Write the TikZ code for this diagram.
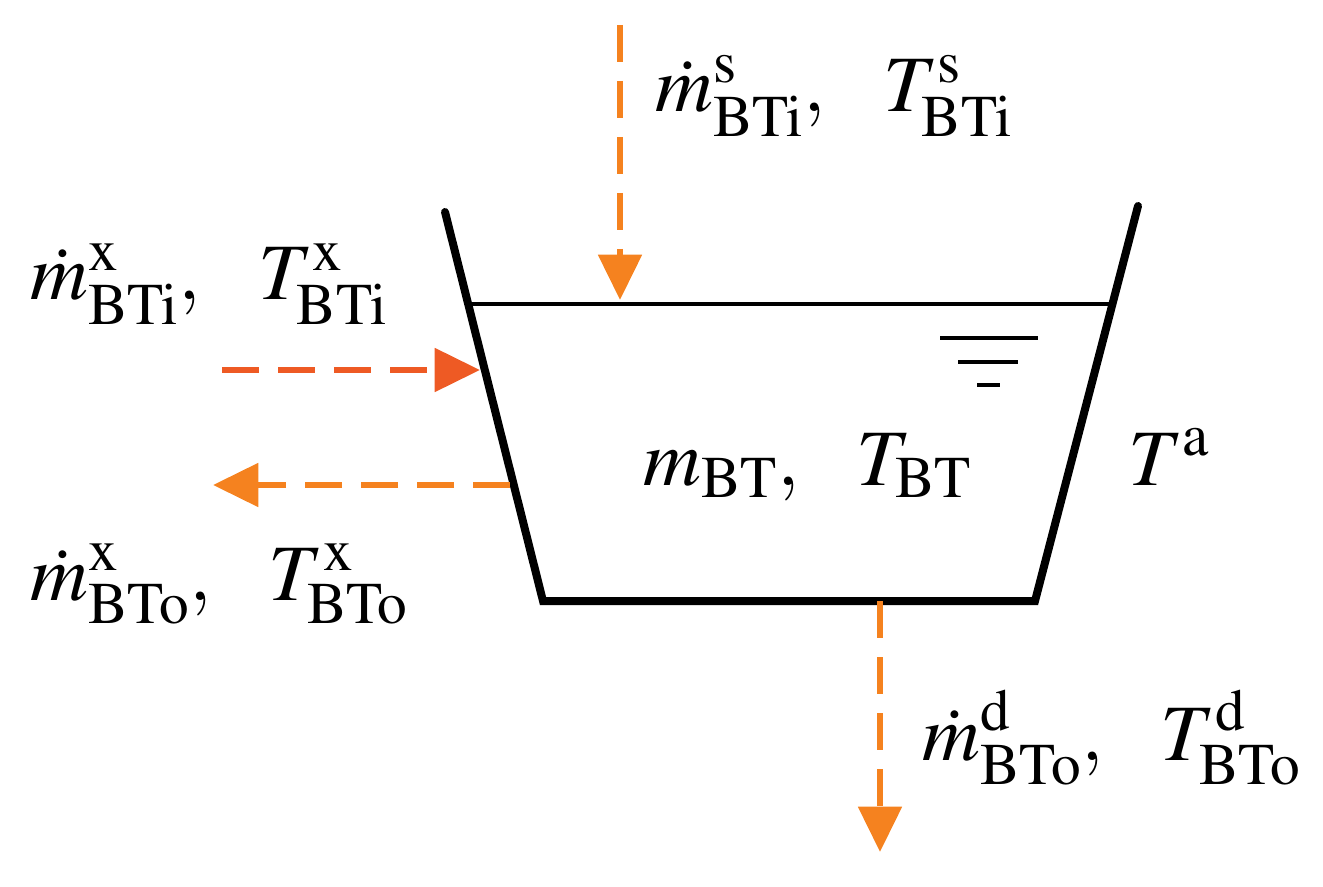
\documentclass[tikz,border=0pt]{standalone}
\usepackage{mathptmx}
\usetikzlibrary{arrows.meta}
\definecolor{org}{HTML}{F5821F}
\definecolor{red2}{HTML}{EE5A24}
\tikzset{
 wall/.style={line width=6pt,line cap=round},
 flow/.style={line width=4.8pt,dash pattern=on 28pt off 14pt,-{Triangle[length=34pt,width=32pt]}},
 lbl/.style={font=\fontsize{60}{70}\selectfont,inner sep=0pt}
}
\begin{document}
\begin{tikzpicture}[x=0.75pt,y=-0.75pt]
\useasboundingbox (0,0) rectangle (1323,887);
\coordinate (lt) at (445,212); \coordinate (lb) at (543,601);
\coordinate (rt) at (1138,206); \coordinate (rb) at (1035,601);
\draw[wall] (lt) -- (lb) -- (rb) -- (rt);
\draw[line width=2.5pt] (472,304) -- (1110,304);
\draw[line width=2.5pt] (940,338) -- (1038,338) (958,362) -- (1018,362) (977,385) -- (1000,385);
\coordinate (s0) at (620,25); \coordinate (s1) at (620,300);
\draw[flow,org] (s0) -- (s1);
\coordinate (i0) at (222,370); \coordinate (i1) at (480,370);
\draw[flow,red2] (i0) -- (i1);
\coordinate (o0) at (510,485); \coordinate (o1) at (213,485);
\draw[flow,org] (o0) -- (o1);
\coordinate (d0) at (880,601); \coordinate (d1) at (880,852);
\draw[flow,org] (d0) -- (d1);
\node[lbl,anchor=base west] (ls) at (655,112) {$\dot m^{\mathrm{s}}_{\mathrm{BTi}},\ \ T^{\mathrm{s}}_{\mathrm{BTi}}$};
\node[lbl,anchor=base west] (li) at (30,300) {$\dot m^{\mathrm{x}}_{\mathrm{BTi}},\ \ T^{\mathrm{x}}_{\mathrm{BTi}}$};
\node[lbl,anchor=base west] (lo) at (30,600) {$\dot m^{\mathrm{x}}_{\mathrm{BTo}},\ \ T^{\mathrm{x}}_{\mathrm{BTo}}$};
\node[lbl,anchor=base west] (ld) at (922,760) {$\dot m^{\mathrm{d}}_{\mathrm{BTo}},\ \ T^{\mathrm{d}}_{\mathrm{BTo}}$};
\node[lbl,anchor=base west] (lm) at (643,485) {$m_{\mathrm{BT}},\ \ T_{\mathrm{BT}}$};
\node[lbl,anchor=base west] (la) at (1128,485) {$T^{\mathrm{a}}$};
\end{tikzpicture}
\end{document}
